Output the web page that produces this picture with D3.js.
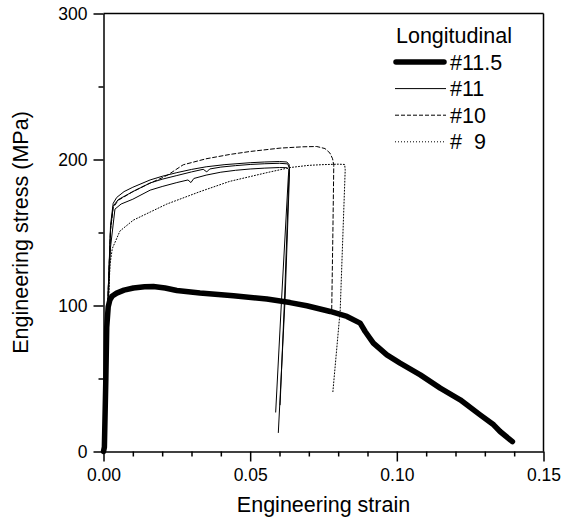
<!DOCTYPE html>
<html>
<head>
<meta charset="utf-8">
<script src="https://cdn.jsdelivr.net/npm/d3@7"></script>
<style>
  body { margin: 0; background: #fff; }
  svg { font-family: "Liberation Sans", Arial, sans-serif; }
</style>
</head>
<body>
<div id="chart"></div>
<script>
// Data: strain / stress (MPa)
var strain115 = [0, 0.0003, 0.0008, 0.0011, 0.0016, 0.0022, 0.003, 0.0045, 0.007, 0.0102, 0.014, 0.017, 0.021, 0.025, 0.0329, 0.0443, 0.0557, 0.0636, 0.0693, 0.0773, 0.083, 0.0875, 0.0892, 0.092, 0.0966, 0.1011, 0.108, 0.1148, 0.1216, 0.1284, 0.133, 0.1352, 0.1394];
var stress115 = [0, 3, 50, 85, 99, 104, 106.5, 108.5, 110.5, 112, 112.8, 113, 112, 110.3, 108.5, 106.6, 104.4, 102, 99.8, 95.9, 92.5, 87.9, 82.2, 74.2, 66.2, 60.5, 52.5, 43.4, 35.4, 25.1, 18.3, 13.7, 6.8];

var strain11a = [0, 0.0008, 0.0016, 0.0024, 0.0033, 0.0045, 0.007, 0.01, 0.0159, 0.02, 0.025, 0.03, 0.035, 0.0414, 0.05, 0.055, 0.06, 0.0625, 0.0633, 0.0634, 0.0619, 0.0596];
var stress11a = [0, 55, 110, 155, 170, 174, 178, 181, 186, 188.5, 191, 193.2, 195, 196.5, 197.8, 198.3, 198.6, 198.3, 196.5, 190, 104, 13];

var strain11b = [0, 0.0008, 0.0016, 0.0024, 0.0033, 0.005, 0.01, 0.016, 0.02, 0.025, 0.03, 0.034, 0.0352, 0.0362, 0.04, 0.045, 0.05, 0.055, 0.06, 0.0628, 0.0634, 0.0632, 0.0617, 0.0602];
var stress11b = [0, 55, 110, 152, 168, 172.5, 178, 184, 186.5, 189, 191.5, 193.3, 191.5, 193.5, 194.8, 195.8, 196.6, 197.1, 197.4, 197, 194, 188, 104, 32];

var strain11c = [0, 0.0008, 0.0016, 0.0024, 0.0039, 0.006, 0.01, 0.0159, 0.02, 0.025, 0.0288, 0.0298, 0.0308, 0.035, 0.04, 0.045, 0.05, 0.055, 0.06, 0.0625, 0.0632, 0.063, 0.0607, 0.0587];
var stress11c = [0, 50, 100, 140, 166, 169.5, 172.8, 179, 181.5, 184.2, 186, 184.2, 187, 189.3, 191.3, 192.6, 193.5, 194.1, 194.5, 194.4, 193, 188, 104, 27];

var strain10 = [0, 0.0008, 0.0016, 0.0024, 0.0033, 0.005, 0.01, 0.015, 0.02, 0.022, 0.0265, 0.0272, 0.035, 0.0432, 0.05, 0.0602, 0.068, 0.0727, 0.0755, 0.0772, 0.0781, 0.0785, 0.0782, 0.0778];
var stress10 = [0, 55, 110, 152, 167, 172, 178, 183, 187.5, 189.5, 195.5, 196.4, 200.5, 203.5, 205.5, 207.8, 208.7, 208.9, 207.5, 204.4, 200.5, 196, 150, 97];

var strain9 = [0, 0.0008, 0.0016, 0.0022, 0.003, 0.0056, 0.0102, 0.0159, 0.0216, 0.0329, 0.043, 0.0557, 0.0636, 0.07, 0.075, 0.08, 0.0822, 0.0824, 0.0807, 0.0782];
var stress9 = [0, 48, 96, 128, 139, 151, 158.5, 164, 169.5, 178, 185, 191, 194.5, 196, 196.5, 196.8, 196.6, 193, 97, 41];

var xTicksMajor = [0, 0.05, 0.10, 0.15];
var xTicksMinor = [0.01, 0.02, 0.03, 0.04, 0.06, 0.07, 0.08, 0.09, 0.11, 0.12, 0.13, 0.14];
var yTicksMajor = [0, 100, 200, 300];
var yTicksMinor = [50, 150, 250];

var legendTitle = "Longitudinal";
var legendLabels = ["#11.5", "#11", "#10", "#  9"];

// Set the parameters for the chart
var W = 570, H = 521
  , m = {top: 13.5, right: 26.5, bottom: 69.5, left: 103.5}
  , w = W - m.left - m.right
  , h = H - m.top - m.bottom;

var svg = d3.select("#chart").append("svg")
  .attr("width", W)
  .attr("height", H);

var g = svg.append("g")
  .attr("transform", "translate(" + m.left + "," + m.top + ")");

var x = d3.scaleLinear().domain([0, 0.15]).range([0, w]);
var y = d3.scaleLinear().domain([0, 300]).range([h, 0]);

// Minor ticks first, then major ticks with labels
g.append("g")
  .attr("transform", "translate(0," + h + ")")
  .call(d3.axisBottom(x).tickValues(xTicksMinor).tickSize(5).tickSizeOuter(0).tickFormat(""))
  .call(function(s) { s.select(".domain").remove(); });
g.append("g")
  .attr("transform", "translate(0," + h + ")")
  .call(d3.axisBottom(x).tickValues(xTicksMajor).tickSize(10).tickSizeOuter(0).tickPadding(7).tickFormat(d3.format(".2f")));

g.append("g")
  .call(d3.axisLeft(y).tickValues(yTicksMinor).tickSize(5).tickSizeOuter(0).tickFormat(""))
  .call(function(s) { s.select(".domain").remove(); });
g.append("g")
  .call(d3.axisLeft(y).tickValues(yTicksMajor).tickSize(10).tickSizeOuter(0).tickPadding(6).tickFormat(d3.format("d")));

g.selectAll(".tick line, .domain").attr("stroke", "#000").attr("stroke-width", 1.5);
g.selectAll(".tick text").attr("font-size", 17.5).attr("fill", "#000")
  .attr("font-family", "'Liberation Sans', Arial, sans-serif");

// Frame on the top and right
g.append("line").attr("x1", 0).attr("x2", w).attr("y1", 0).attr("y2", 0)
  .attr("stroke", "#000").attr("stroke-width", 1.5);
g.append("line").attr("x1", w).attr("x2", w).attr("y1", 0).attr("y2", h)
  .attr("stroke", "#000").attr("stroke-width", 1.5);

// Axis titles
svg.append("text")
  .attr("x", m.left + w / 2)
  .attr("y", 512)
  .attr("text-anchor", "middle")
  .attr("font-size", 21.5)
  .text("Engineering strain");
svg.append("text")
  .attr("transform", "translate(28," + (m.top + h / 2) + ") rotate(-90)")
  .attr("text-anchor", "middle")
  .attr("font-size", 21.5)
  .text("Engineering stress (MPa)");

// Curves
function zip(a, b) {
  return a.map(function(d, i) { return [d, b[i]]; });
}
var line = d3.line()
  .x(function(d) { return x(d[0]); })
  .y(function(d) { return y(d[1]); });

var curves = [
  {data: zip(strain9, stress9), width: 1, dash: "1,2"},
  {data: zip(strain10, stress10), width: 1, dash: "4,2.5"},
  {data: zip(strain11c, stress11c), width: 1, dash: null},
  {data: zip(strain11b, stress11b), width: 1, dash: null},
  {data: zip(strain11a, stress11a), width: 1, dash: null},
  {data: zip(strain115, stress115), width: 5.5, dash: null}
];

curves.forEach(function(c) {
  g.append("path")
    .datum(c.data)
    .attr("d", line)
    .attr("fill", "none")
    .attr("stroke", "#000")
    .attr("stroke-width", c.width)
    .attr("stroke-linejoin", "round")
    .attr("stroke-linecap", "round")
    .attr("stroke-dasharray", c.dash);
});

// Legend
var legendStyles = [
  {width: 5.5, dash: null},
  {width: 1, dash: null},
  {width: 1, dash: "4,2"},
  {width: 1, dash: "1,2"}
];
var lg = svg.append("g").attr("transform", "translate(396,0)");
lg.append("text")
  .attr("x", 0)
  .attr("y", 43)
  .attr("font-size", 21.5)
  .text(legendTitle);
legendLabels.forEach(function(label, i) {
  var cy = 62 + i * 26.6;
  lg.append("line")
    .attr("x1", i === 0 ? 0 : -1).attr("x2", i === 0 ? 48 : 50)
    .attr("y1", cy).attr("y2", cy)
    .attr("stroke", "#000")
    .attr("stroke-width", legendStyles[i].width)
    .attr("stroke-linecap", i === 0 ? "round" : "butt")
    .attr("stroke-dasharray", legendStyles[i].dash);
  lg.append("text")
    .attr("x", 54)
    .attr("y", cy + 7.5)
    .attr("font-size", 21.5)
    .style("white-space", "pre")
    .text(label);
});
</script>
</body>
</html>
